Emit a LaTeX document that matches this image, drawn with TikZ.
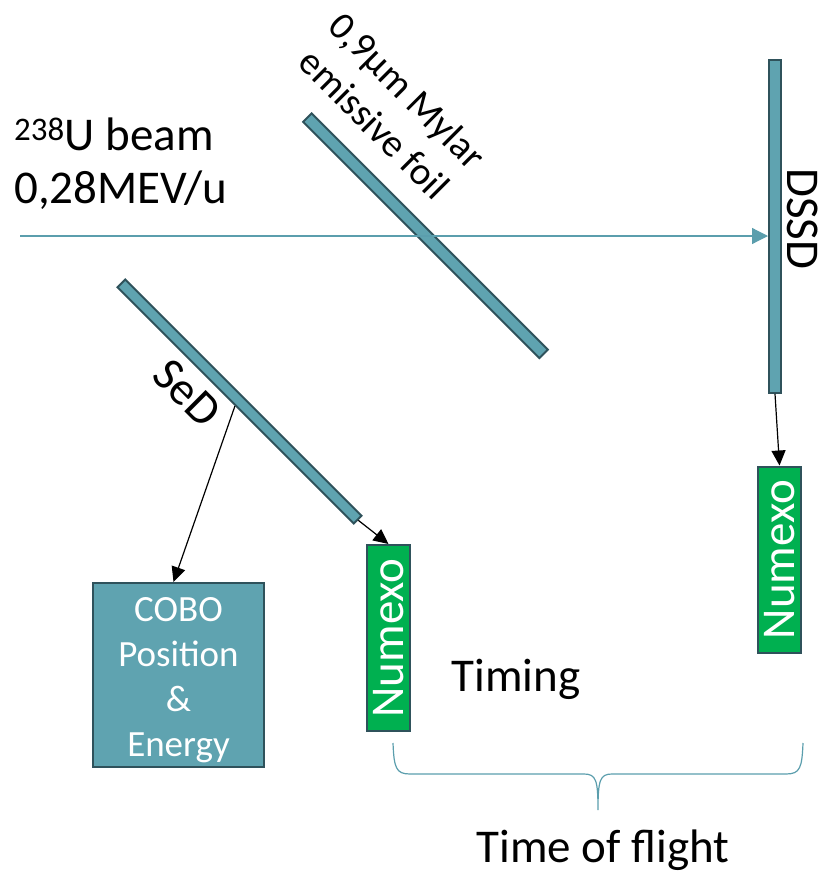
\documentclass[tikz,border=0pt]{standalone}
\usepackage{fontspec}
\setmainfont{Carlito}
\usetikzlibrary{arrows.meta}
\definecolor{tealfill}{HTML}{5FA3B0}
\definecolor{tealdark}{HTML}{2F525B}
\definecolor{beamcol}{HTML}{5B9EAD}
\definecolor{numgreen}{HTML}{00B050}
\begin{document}
\begin{tikzpicture}[x=1pt,y=-1pt,
  bar/.style={draw=tealdark, fill=tealfill, line width=2pt, inner sep=0pt},
  numbox/.style={draw=tealdark, fill=numgreen, line width=2pt, inner sep=0pt,
    minimum width=186pt, minimum height=43pt, rotate=90, text=white,
    font=\fontsize{47}{50}\selectfont},
  arr/.style={-{Triangle[length=15pt,width=14pt]}, line width=1.2pt, black},
  lbl/.style={font=\fontsize{47}{56}\selectfont, inner sep=0pt},
  bracecol/.style={draw=beamcol, line width=1.2pt}]
\useasboundingbox (0,0) rectangle (826,873);
% bars
\node[bar, minimum width=334pt, minimum height=12pt, rotate=-45] (foil) at (425.5,235.75) {};
\node[bar, minimum width=334pt, minimum height=11pt, rotate=-45] (sed) at (239.5,401.5) {};
\node[bar, minimum width=12pt, minimum height=333pt] (dssd) at (775,226.5) {};
% boxes
\node[numbox] (num1) at (388.5,638) {Numexo};
\node[numbox] (num2) at (779.5,559.5) {Numexo};
\node[draw=tealdark, fill=tealfill, line width=2pt, minimum width=171pt,
  minimum height=184pt, text=white, align=center,
  font=\fontsize{37}{45}\selectfont, inner sep=0pt] (cobo) at (178.5,675) {};
\node[text=white, align=center, font=\fontsize{37}{45}\selectfont, inner sep=0pt]
  (cobotxt) at (178.5,680) {COBO\\Position\\\&\\Energy};
% labels
\node[lbl, anchor=base west] (beam1) at (14,150) {\textsuperscript{238}U beam};
\node[lbl, anchor=base west] (beam2) at (14,203) {0,28MEV/u};
\node[font=\fontsize{39}{47}\selectfont, align=center, rotate=-45, inner sep=0pt]
  (mylar) at (391,107) {0,9µm Mylar\\emissive foil};
\node[lbl, rotate=-45] (sedlbl) at (187,393) {SeD};
\node[lbl, rotate=-90, anchor=base] (dssdlbl) at (787,219) {DSSD};
\node[lbl, anchor=base] (timing) at (516,691) {Timing};
\node[lbl, anchor=base] (tof) at (603,862) {Time of flight};
% beam
\coordinate (bstart) at (20,236);
\draw[-{Triangle[length=16pt,width=16pt]}, draw=beamcol, fill=beamcol, line width=1.2pt]
  (bstart) -- (bstart -| dssd.west);
% connectors
\draw[arr] (sed.south) -- ([xshift=-5pt]cobo.north);
\draw[arr] (sed.east) -- (num1.east);
\draw[arr] (dssd.south) -- (num2.east);
% brace
\draw[bracecol] (393,743) .. controls (394,768) and (396,774) .. (410,774)
  -- (584,774) .. controls (596,774) and (598,780) .. (598,810)
  .. controls (598,780) and (600,774) .. (612,774)
  -- (786,774) .. controls (800,774) and (802,768) .. (803,743);
\end{tikzpicture}
\end{document}
